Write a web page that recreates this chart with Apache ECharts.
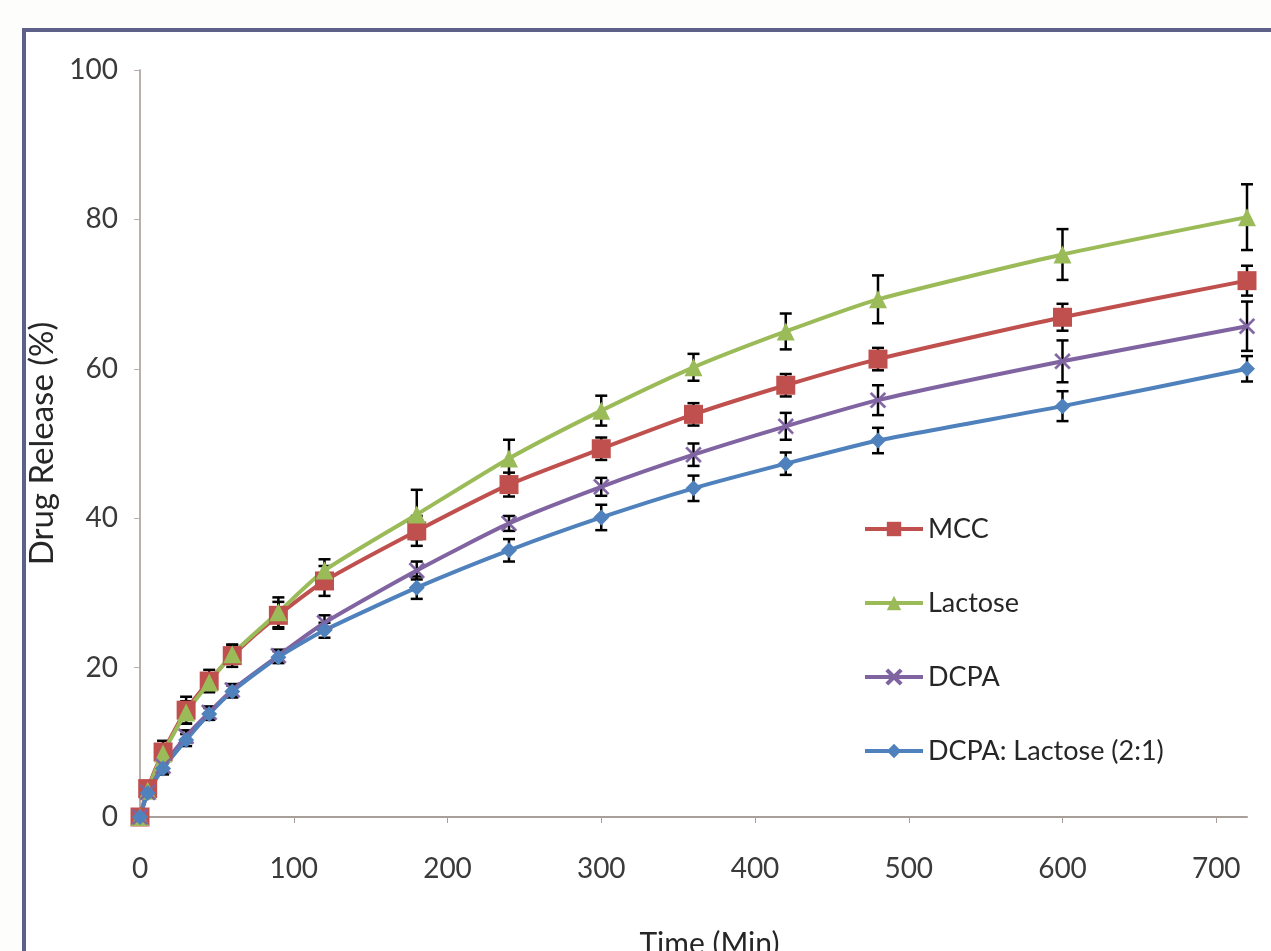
<!DOCTYPE html>
<html>
<head>
<meta charset="utf-8">
<title>Drug Release</title>
<script src="https://cdn.jsdelivr.net/npm/echarts@6/dist/echarts.min.js"></script>
<style>
    html, body { margin: 0; padding: 0; background: #fdfdfb; }
    #chart { width: 1271px; height: 951px; }
</style>
</head>
<body>
<div id="chart"></div>
<script>
// sampling times (min)
var times = [0, 5, 15, 30, 45, 60, 90, 120, 180, 240, 300, 360, 420, 480, 600, 720];

// mean release (%)
var mcc     = [0, 3.8, 8.7, 14.3, 18.2, 21.6, 27.0, 31.6, 38.3, 44.5, 49.3, 53.9, 57.8, 61.3, 66.9, 71.8];
var lactose = [0, 3.5, 8.5, 14.0, 18.0, 21.8, 27.4, 33.0, 40.5, 48.0, 54.4, 60.2, 65.0, 69.3, 75.3, 80.3];
var dcpa    = [0, 3.3, 6.8, 10.8, 14.0, 17.0, 21.6, 26.0, 33.0, 39.3, 44.2, 48.5, 52.3, 55.8, 61.0, 65.7];
var blend   = [0, 3.2, 6.5, 10.3, 13.8, 16.8, 21.4, 25.0, 30.7, 35.7, 40.1, 44.0, 47.3, 50.4, 55.0, 60.0];

// standard deviations
var mccSd     = [0, 1.0, 1.5, 1.8, 1.5, 1.5, 1.8, 2.0, 2.0, 1.6, 1.5, 1.5, 1.5, 1.5, 1.8, 2.0];
var lactoseSd = [0, 0.8, 1.2, 1.5, 1.2, 1.2, 2.0, 1.5, 3.3, 2.5, 2.0, 1.8, 2.4, 3.2, 3.4, 4.4];
var dcpaSd    = [0, 0.6, 0.8, 0.8, 0.8, 0.8, 0.8, 1.0, 1.2, 1.0, 1.2, 1.5, 1.8, 2.0, 2.8, 3.3];
var blendSd   = [0, 0.6, 0.8, 0.8, 0.8, 0.8, 0.8, 1.0, 1.5, 1.5, 1.7, 1.7, 1.5, 1.7, 2.0, 1.7];

var xTicks = [0, 100, 200, 300, 400, 500, 600, 700];
var yTicks = [0, 20, 40, 60, 80, 100];

var FONT = 'Lato, "Open Sans", sans-serif';
var crossPath = 'path://M0,1L1,0L5,4L9,0L10,1L6,5L10,9L9,10L5,6L1,10L0,9L4,5Z';

function pairs(vals) {
    return times.map(function (t, i) { return [t, vals[i]]; });
}

function bars(vals, sd) {
    return times.map(function (t, i) { return [t, vals[i] - sd[i], vals[i] + sd[i]]; });
}

function renderErr(params, api) {
    var top = api.coord([api.value(0), api.value(2)]);
    var bot = api.coord([api.value(0), api.value(1)]);
    var w = 6;
    var style = { stroke: '#000', lineWidth: 2.5 };
    return {
        type: 'group',
        children: [
            { type: 'line', shape: { x1: top[0], y1: top[1], x2: bot[0], y2: bot[1] }, style: style },
            { type: 'line', shape: { x1: top[0] - w, y1: top[1], x2: top[0] + w, y2: top[1] }, style: style },
            { type: 'line', shape: { x1: bot[0] - w, y1: bot[1], x2: bot[0] + w, y2: bot[1] }, style: style }
        ]
    };
}

function errSeries(vals, sd) {
    return {
        type: 'custom',
        renderItem: renderErr,
        data: bars(vals, sd),
        z: 1,
        silent: true,
        legendHoverLink: false
    };
}

function lineSeries(name, vals, color, symbol, size) {
    return {
        name: name,
        type: 'line',
        data: pairs(vals),
        smooth: 0.2,
        symbol: symbol,
        symbolSize: size,
        showAllSymbol: true,
        lineStyle: { color: color, width: 4 },
        itemStyle: { color: color, borderColor: color, borderWidth: symbol === crossPath ? 0.5 : 0 },
        z: 3
    };
}

var chart = echarts.init(document.getElementById('chart'));

var option = {
    backgroundColor: '#fdfdfb',
    animation: false,
    graphic: [
        { type: 'rect', shape: { x: 22, y: 30, width: 1249, height: 921 }, style: { fill: '#ffffff' }, z: -10 },
        { type: 'line', shape: { x1: 22, y1: 30, x2: 1271, y2: 30 }, style: { stroke: '#5d6189', lineWidth: 4 }, z: -5 },
        { type: 'line', shape: { x1: 24, y1: 30, x2: 24, y2: 951 }, style: { stroke: '#5d6189', lineWidth: 4 }, z: -5 }
    ],
    grid: { left: 140, right: 24, top: 70, bottom: 134, outerBoundsMode: 'none' },
    legend: {
        orient: 'vertical',
        left: 858,
        top: 510,
        itemWidth: 58,
        itemHeight: 18,
        itemGap: 46,
        lineStyle: { width: 4 },
        textStyle: { fontFamily: FONT, fontSize: 27, color: '#262626', lineHeight: 28 },
        data: ['MCC', 'Lactose', 'DCPA', 'DCPA: Lactose (2:1)']
    },
    xAxis: {
        type: 'value',
        min: 0,
        max: 720,
        interval: 100,
        name: 'Time (Min)',
        nameLocation: 'middle',
        nameGap: 112,
        nameTextStyle: { fontFamily: FONT, fontSize: 30, color: '#262626', padding: [0, 0, 0, 32] },
        axisLine: { lineStyle: { color: '#a89e9a', width: 2 } },
        axisTick: { show: true, inside: false, length: 6, lineStyle: { color: '#a89e9a' } },
        axisLabel: {
            fontFamily: FONT, fontSize: 28, color: '#3a3a3a', margin: 38,
            showMaxLabel: false,
            formatter: function (v) { return xTicks.indexOf(v) >= 0 ? String(v) : ''; }
        },
        splitLine: { show: false }
    },
    yAxis: {
        type: 'value',
        min: 0,
        max: 100,
        interval: 20,
        name: 'Drug Release (%)',
        nameLocation: 'middle',
        nameGap: 72,
        nameTextStyle: { fontFamily: FONT, fontSize: 33, color: '#262626' },
        axisLine: { show: true, lineStyle: { color: '#b8b0ad', width: 2 } },
        axisTick: { show: true, inside: false, length: 6, lineStyle: { color: '#b8b0ad' } },
        axisLabel: {
            fontFamily: FONT, fontSize: 28, color: '#3a3a3a', margin: 22,
            formatter: function (v) { return yTicks.indexOf(v) >= 0 ? String(v) : ''; }
        },
        splitLine: { show: false }
    },
    series: [
        errSeries(mcc, mccSd),
        errSeries(lactose, lactoseSd),
        errSeries(dcpa, dcpaSd),
        errSeries(blend, blendSd),
        lineSeries('MCC', mcc, '#c0504d', 'rect', 19),
        lineSeries('Lactose', lactose, '#9bbb59', 'triangle', 18),
        lineSeries('DCPA', dcpa, '#8064a2', crossPath, 16),
        lineSeries('DCPA: Lactose (2:1)', blend, '#4f81bd', 'diamond', 16)
    ]
};

chart.setOption(option);
</script>
</body>
</html>
